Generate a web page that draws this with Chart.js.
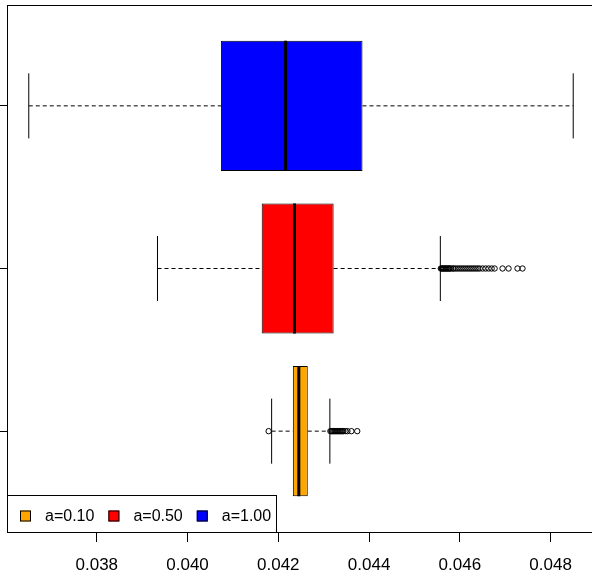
<!DOCTYPE html>
<html>
<head>
    <meta charset="UTF-8">
    <title>Boxplot a=0.10 / 0.50 / 1.00</title>
    <script src="https://cdn.jsdelivr.net/npm/chart.js@4.4.1/dist/chart.umd.min.js"></script>
    <style>
        html, body {
            margin: 0;
            padding: 0;
            background: #fff;
            overflow: hidden;
        }
        #boxChart {
            display: block;
        }
    </style>
</head>
<body>
    <canvas id="boxChart" width="600" height="581"></canvas>
    <script>
        // Data
        const categories = ['a=0.10', 'a=0.50', 'a=1.00'];
        const whiskerLow = [0.041853, 0.039338, 0.036502];
        const q1 = [0.042320, 0.041634, 0.040735];
        const median = [0.042452, 0.042357, 0.042160];
        const q3 = [0.042649, 0.043219, 0.043855];
        const whiskerHigh = [0.043136, 0.045570, 0.048498];
        const outliersA010 = [
            0.041787,
            0.043148, 0.043170, 0.043192, 0.043214, 0.043236, 0.043257, 0.043280,
            0.043302, 0.043324, 0.043346, 0.043368, 0.043390, 0.043412, 0.043434,
            0.043478, 0.043522, 0.043610, 0.043739
        ];
        const outliersA050 = [
            0.045581, 0.045603, 0.045625, 0.045647, 0.045669, 0.045691, 0.045713,
            0.045735, 0.045757, 0.045779, 0.045801, 0.045844, 0.045866, 0.045910,
            0.045954, 0.045998, 0.046042, 0.046086, 0.046130, 0.046174, 0.046218,
            0.046262, 0.046305, 0.046349, 0.046393, 0.046437, 0.046503, 0.046569,
            0.046634, 0.046700, 0.046766, 0.046941, 0.047073, 0.047270, 0.047380
        ];
        const outliersA100 = [];
        const outliers = [outliersA010, outliersA050, outliersA100];
        const xTicks = [0.038, 0.040, 0.042, 0.044, 0.046, 0.048];

        // Styles
        const colors = ['#FFA500', '#FF0000', '#0000FF'];
        const fontFamily = '"Liberation Sans", Arial, Helvetica, sans-serif';
        const boxHalf = 0.4;
        const capHalf = 0.2;

        // R-like axis ranges (4% extension)
        const allVals = whiskerLow.concat(whiskerHigh, ...outliers);
        const dMin = Math.min(...allVals), dMax = Math.max(...allVals);
        const xMin = dMin - 0.04 * (dMax - dMin);
        const xMax = dMax + 0.04 * (dMax - dMin);
        const yMin = 0.5 - 0.04 * categories.length;
        const yMax = categories.length + 0.5 + 0.04 * categories.length;

        const gap = {x: null, y: null};
        const whiskerPts = [], capPts = [], medianPts = [], outlierPts = [];
        categories.forEach((c, i) => {
            const y = i + 1;
            whiskerPts.push({x: whiskerLow[i], y}, {x: q1[i], y}, gap, {x: q3[i], y}, {x: whiskerHigh[i], y}, gap);
            capPts.push({x: whiskerLow[i], y: y - capHalf}, {x: whiskerLow[i], y: y + capHalf}, gap,
                        {x: whiskerHigh[i], y: y - capHalf}, {x: whiskerHigh[i], y: y + capHalf}, gap);
            medianPts.push({x: median[i], y: y - boxHalf}, {x: median[i], y: y + boxHalf}, gap);
            outliers[i].forEach(v => outlierPts.push({x: v, y}));
        });

        // Frame round the plot and the legend box
        const framePlugin = {
            id: 'frame',
            afterDraw(chart) {
                const {ctx, chartArea: a} = chart;
                ctx.save();
                ctx.strokeStyle = '#000';
                ctx.lineWidth = 1;
                ctx.strokeRect(Math.round(a.left) + 0.5, Math.round(a.top) + 0.5,
                               Math.round(a.right - a.left), Math.round(a.bottom - a.top));

                // legend
                ctx.font = '16px ' + fontFamily;
                const sw = 11, padL = 13, gapS = 14, gapT = 14, padR = 5;
                let w = padL;
                categories.forEach((c, i) => {
                    w += sw + gapS + ctx.measureText(c).width + (i < categories.length - 1 ? gapT : padR);
                });
                const boxTop = 495, boxBottom = Math.round(a.bottom);
                const left = Math.round(a.left);
                ctx.fillStyle = '#fff';
                ctx.fillRect(left, boxTop, w, boxBottom - boxTop);
                ctx.strokeRect(left + 0.5, boxTop + 0.5, Math.round(w), boxBottom - boxTop);
                const cy = boxBottom - 16;
                let x = left + padL;
                ctx.textBaseline = 'middle';
                categories.forEach((c, i) => {
                    ctx.fillStyle = colors[i];
                    ctx.fillRect(x, cy - sw / 2, sw, sw);
                    ctx.strokeRect(x + 0.5, cy - sw / 2 + 0.5, sw - 1, sw - 1);
                    x += sw + gapS;
                    ctx.fillStyle = '#000';
                    ctx.fillText(c, x, cy + 1);
                    x += ctx.measureText(c).width + gapT;
                });
                ctx.restore();
            }
        };

        const ctx = document.getElementById('boxChart').getContext('2d');
        new Chart(ctx, {
            type: 'bar',
            data: {
                datasets: [
                    {
                        type: 'line',
                        data: medianPts,
                        borderColor: '#000',
                        borderWidth: 3,
                        borderCapStyle: 'butt',
                        pointRadius: 0,
                        spanGaps: false,
                        fill: false
                    },
                    {
                        type: 'line',
                        data: outlierPts,
                        showLine: false,
                        pointStyle: 'circle',
                        pointRadius: 2.7,
                        pointBorderWidth: 1,
                        pointBorderColor: '#000',
                        pointBackgroundColor: 'rgba(255,255,255,0)'
                    },
                    {
                        type: 'line',
                        data: whiskerPts,
                        borderColor: '#000',
                        borderWidth: 1,
                        borderDash: [4, 3],
                        pointRadius: 0,
                        spanGaps: false,
                        fill: false
                    },
                    {
                        type: 'line',
                        data: capPts,
                        borderColor: '#000',
                        borderWidth: 1,
                        pointRadius: 0,
                        spanGaps: false,
                        fill: false
                    },
                    {
                        type: 'bar',
                        data: categories.map((c, i) => ({x: [q1[i], q3[i]], y: i + 1})),
                        backgroundColor: colors,
                        borderColor: '#000',
                        borderWidth: 1,
                        borderSkipped: false,
                        categoryPercentage: 2 * boxHalf,
                        barPercentage: 1
                    }
                ]
            },
            options: {
                indexAxis: 'y',
                responsive: false,
                animation: false,
                layout: { padding: { top: 4, right: 2, left: 0, bottom: 0 } },
                plugins: {
                    legend: { display: false },
                    tooltip: { enabled: false }
                },
                scales: {
                    x: {
                        type: 'linear',
                        min: xMin,
                        max: xMax,
                        beginAtZero: false,
                        offset: false,
                        afterBuildTicks: s => { s.ticks = xTicks.map(v => ({value: v})); },
                        afterFit: s => { s.height = 49; },
                        ticks: {
                            autoSkip: false,
                            maxRotation: 0,
                            padding: 13,
                            color: '#000',
                            font: { family: fontFamily, size: 17 },
                            callback: v => v.toFixed(3)
                        },
                        grid: { drawOnChartArea: false, tickLength: 10, color: '#000', offset: false },
                        border: { display: false }
                    },
                    y: {
                        type: 'linear',
                        min: yMin,
                        max: yMax,
                        offset: false,
                        afterBuildTicks: s => { s.ticks = categories.map((c, i) => ({value: i + 1})); },
                        afterFit: s => { s.width = 7; },
                        ticks: { display: false },
                        grid: { drawOnChartArea: false, tickLength: 7, color: '#000', offset: false },
                        border: { display: false }
                    }
                }
            },
            plugins: [framePlugin]
        });
    </script>
</body>
</html>
